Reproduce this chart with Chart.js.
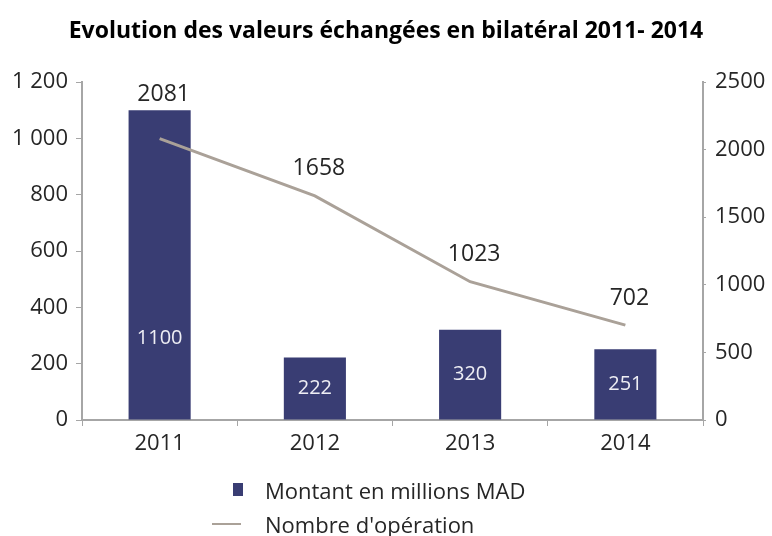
<!DOCTYPE html>
<html>
<head>
<meta charset="utf-8">
<script src="https://cdn.jsdelivr.net/npm/chart.js@4.4.1/dist/chart.umd.min.js"></script>
<style>
  html, body { margin: 0; padding: 0; background: #fff; }
  #wrap { position: relative; width: 772px; height: 536px; }
  .legend { position: absolute; left: 0; font: 22px/22px "Open Sans", sans-serif; color: #262626; }
  .legend span.sw { position: absolute; }
</style>
</head>
<body>
<div id="wrap">
  <canvas id="chart" width="772" height="536"></canvas>
  <div class="legend" style="top:479px;">
    <span class="sw" style="left:233px;top:4px;width:10px;height:13px;background:#393d73;"></span>
    <span style="position:absolute;left:265px;white-space:nowrap;">Montant en millions MAD</span>
  </div>
  <div class="legend" style="top:513px;">
    <span class="sw" style="left:212px;top:10px;width:29px;height:2px;background:#aaa198;"></span>
    <span style="position:absolute;left:265px;white-space:nowrap;">Nombre d'opération</span>
  </div>
</div>
<script>
const years = ['2011', '2012', '2013', '2014'];
const montant = [1100, 222, 320, 251];
const operations = [2081, 1658, 1023, 702];
const leftTicks = [0, 200, 400, 600, 800, 1000, 1200];
const rightTicks = [0, 500, 1000, 1500, 2000, 2500];

const FONT = '"Open Sans", sans-serif';
const AXIS = '#a6a6a6';
const TEXT = '#262626';

// value labels: white inside bars, dark above the line
const valueLabels = {
  id: 'valueLabels',
  afterDatasetsDraw(chart) {
    const ctx = chart.ctx;
    const bars = chart.getDatasetMeta(0).data;
    const pts = chart.getDatasetMeta(1).data;
    ctx.save();
    ctx.textAlign = 'center';
    ctx.textBaseline = 'middle';
    ctx.font = '20px ' + FONT;
    ctx.fillStyle = '#eeeef4';
    bars.forEach((b, i) => {
      const mid = (b.y + b.base) / 2;
      const y = Math.max(mid, b.base - 81);
      ctx.fillText(montant[i], b.x, y);
    });
    ctx.font = '23px ' + FONT;
    ctx.fillStyle = TEXT;
    pts.forEach((p, i) => {
      const y = Math.min(p.y - 27, bars[i].y - 16);
      ctx.fillText(operations[i], p.x + 4, y);
    });
    ctx.restore();
  }
};

new Chart(document.getElementById('chart'), {
  type: 'bar',
  data: {
    labels: years,
    datasets: [
      {
        type: 'bar',
        label: 'Montant en millions MAD',
        data: montant,
        backgroundColor: '#393d73',
        barPercentage: 0.4,
        categoryPercentage: 1,
        yAxisID: 'y',
        order: 2
      },
      {
        type: 'line',
        label: "Nombre d'opération",
        data: operations,
        borderColor: '#aaa198',
        borderWidth: 3,
        pointRadius: 0,
        tension: 0,
        yAxisID: 'y2',
        order: 1
      }
    ]
  },
  options: {
    responsive: false,
    animation: false,
    layout: { padding: { top: 0, bottom: 76, left: 0, right: 0 } },
    plugins: {
      legend: { display: false },
      tooltip: { enabled: false },
      title: {
        display: true,
        text: 'Evolution des valeurs échangées en bilatéral 2011- 2014',
        color: '#000',
        font: { family: FONT, size: 23, weight: 'bold' },
        padding: { top: 18, bottom: 36.4 }
      }
    },
    scales: {
      x: {
        offset: true,
        grid: { display: true, offset: true, drawOnChartArea: false, color: AXIS, tickLength: 6 },
        border: { color: AXIS, width: 2 },
        ticks: { color: TEXT, font: { family: FONT, size: 22 }, padding: 5 },
        afterFit(s) { s.height = 40; }
      },
      y: {
        position: 'left',
        min: 0,
        max: 1200,
        afterBuildTicks(s) { s.ticks = leftTicks.map(v => ({ value: v })); },
        grid: { display: true, drawOnChartArea: false, color: AXIS, tickLength: 6 },
        border: { color: AXIS, width: 2 },
        ticks: {
          color: TEXT,
          font: { family: FONT, size: 22 },
          padding: 8,
          callback: v => String(v).replace(/\B(?=(\d{3})+(?!\d))/g, ' ')
        },
        afterFit(s) { s.width = 82; }
      },
      y2: {
        position: 'right',
        min: 0,
        max: 2500,
        afterBuildTicks(s) { s.ticks = rightTicks.map(v => ({ value: v })); },
        grid: { display: true, drawOnChartArea: false, color: AXIS, tickLength: 3 },
        border: { color: AXIS, width: 2 },
        ticks: { color: TEXT, font: { family: FONT, size: 22 }, padding: 9, callback: v => String(v) },
        afterFit(s) { s.width = 69; }
      }
    }
  },
  plugins: [valueLabels]
});
</script>
</body>
</html>
